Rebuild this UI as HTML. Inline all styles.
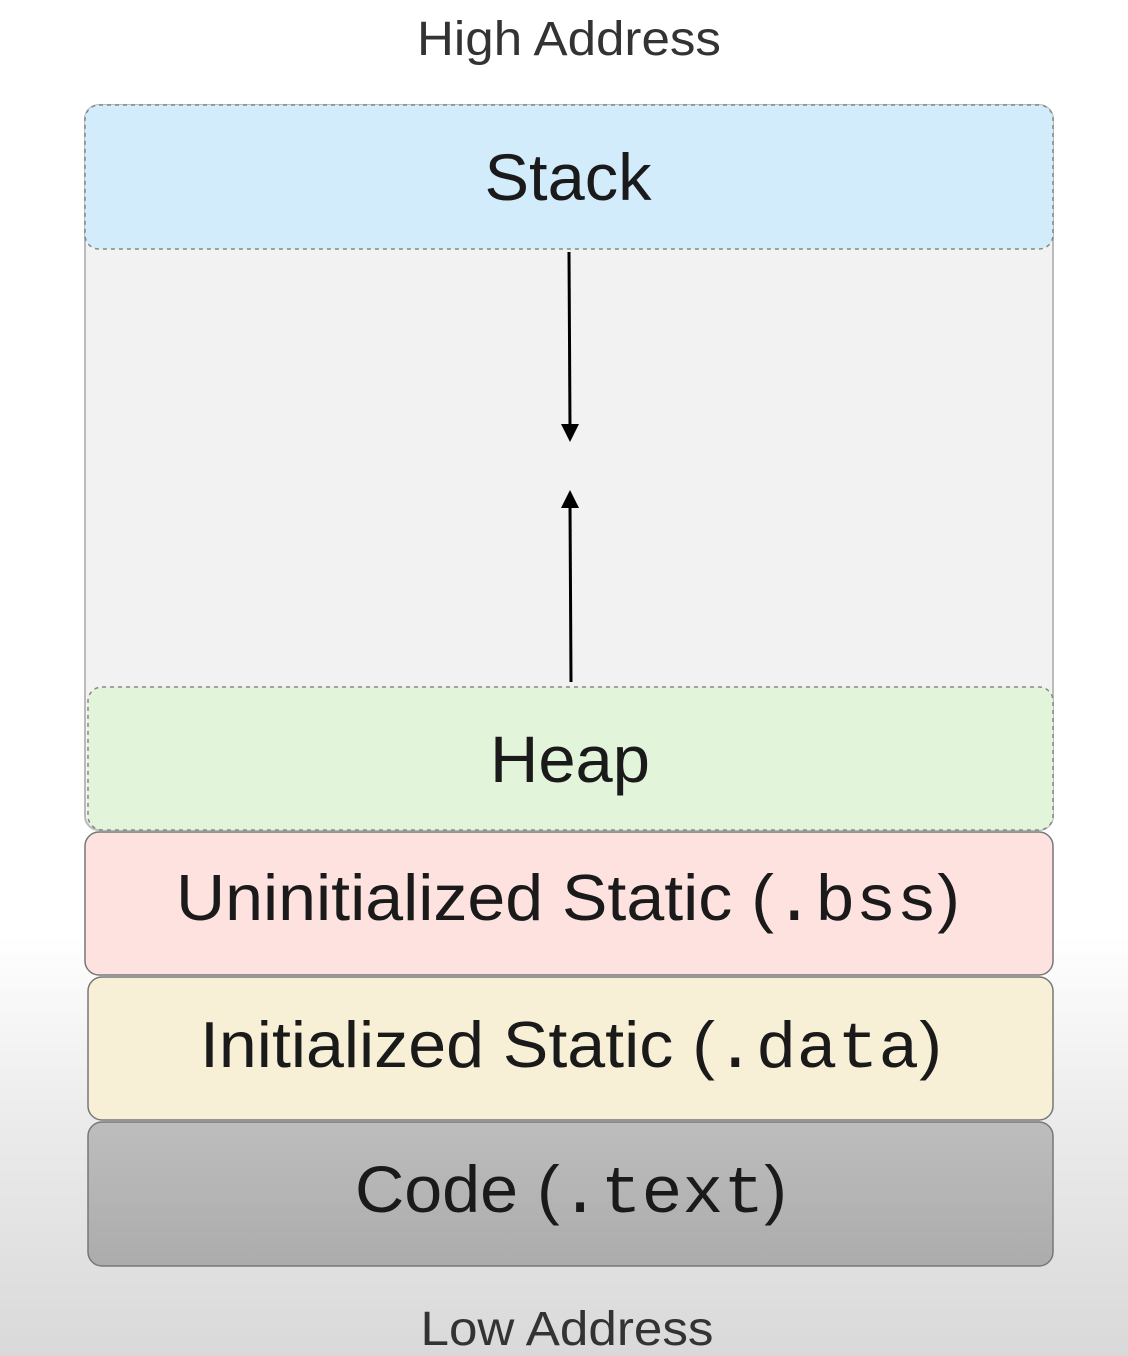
<!DOCTYPE html>
<html><head><meta charset="utf-8"><style>
html,body{margin:0;padding:0;width:1128px;height:1356px;overflow:hidden}
</style></head><body>
<svg width="1128" height="1356" xmlns="http://www.w3.org/2000/svg" font-family="Liberation Sans, sans-serif">
<defs>
<linearGradient id="bg" x1="0" y1="0" x2="0" y2="1">
<stop offset="0" stop-color="#ffffff"/><stop offset="0.69" stop-color="#ffffff"/><stop offset="0.82" stop-color="#ececec"/><stop offset="1" stop-color="#d9d9d9"/>
</linearGradient>
<linearGradient id="code" x1="0" y1="0" x2="0" y2="1"><stop offset="0" stop-color="#bdbdbd"/><stop offset="1" stop-color="#acacac"/></linearGradient>
</defs>
<rect width="1128" height="1356" fill="url(#bg)"/>
<text x="569" y="55" font-size="48" fill="#333" text-anchor="middle" textLength="304" lengthAdjust="spacingAndGlyphs">High Address</text>
<rect x="85" y="105" width="968" height="725" rx="14" fill="#f2f2f2" stroke="#bbb" stroke-width="2"/>
<rect x="85" y="105" width="968" height="144" rx="14" fill="#d2ecfb" stroke="#888" stroke-width="1.5" stroke-dasharray="4 4"/>
<text x="568" y="200" font-size="66" fill="#1a1a1a" text-anchor="middle" textLength="167" lengthAdjust="spacingAndGlyphs">Stack</text>
<line x1="569" y1="252" x2="570" y2="428" stroke="#000" stroke-width="3"/>
<polygon points="561,424 579,424 570,442" fill="#000"/>
<line x1="571" y1="682" x2="570" y2="504" stroke="#000" stroke-width="3"/>
<polygon points="561,508 579,508 570,490" fill="#000"/>
<rect x="88" y="687" width="965" height="143" rx="14" fill="#e2f5da" stroke="#888" stroke-width="1.5" stroke-dasharray="4 4"/>
<text x="570" y="782" font-size="66" fill="#1a1a1a" text-anchor="middle" textLength="160" lengthAdjust="spacingAndGlyphs">Heap</text>
<rect x="85" y="832" width="968" height="143" rx="14" fill="#fde2e0" stroke="#777" stroke-width="1.5"/>
<text x="176" y="920" font-size="65" fill="#1a1a1a" textLength="784" lengthAdjust="spacingAndGlyphs">Uninitialized Static (<tspan font-family="Liberation Mono, monospace">.bss</tspan>)</text>
<rect x="88" y="977" width="965" height="143" rx="14" fill="#f7f0d6" stroke="#777" stroke-width="1.5"/>
<text x="200" y="1067" font-size="65" fill="#1a1a1a" textLength="742" lengthAdjust="spacingAndGlyphs">Initialized Static (<tspan font-family="Liberation Mono, monospace">.data</tspan>)</text>
<rect x="88" y="1122" width="965" height="144" rx="14" fill="url(#code)" stroke="#777" stroke-width="1.5"/>
<text x="355" y="1212" font-size="66" fill="#1a1a1a" textLength="432" lengthAdjust="spacingAndGlyphs">Code (<tspan font-family="Liberation Mono, monospace">.text</tspan>)</text>
<text x="567" y="1345" font-size="48" fill="#333" text-anchor="middle" textLength="293" lengthAdjust="spacingAndGlyphs">Low Address</text>
</svg>
</body></html>
